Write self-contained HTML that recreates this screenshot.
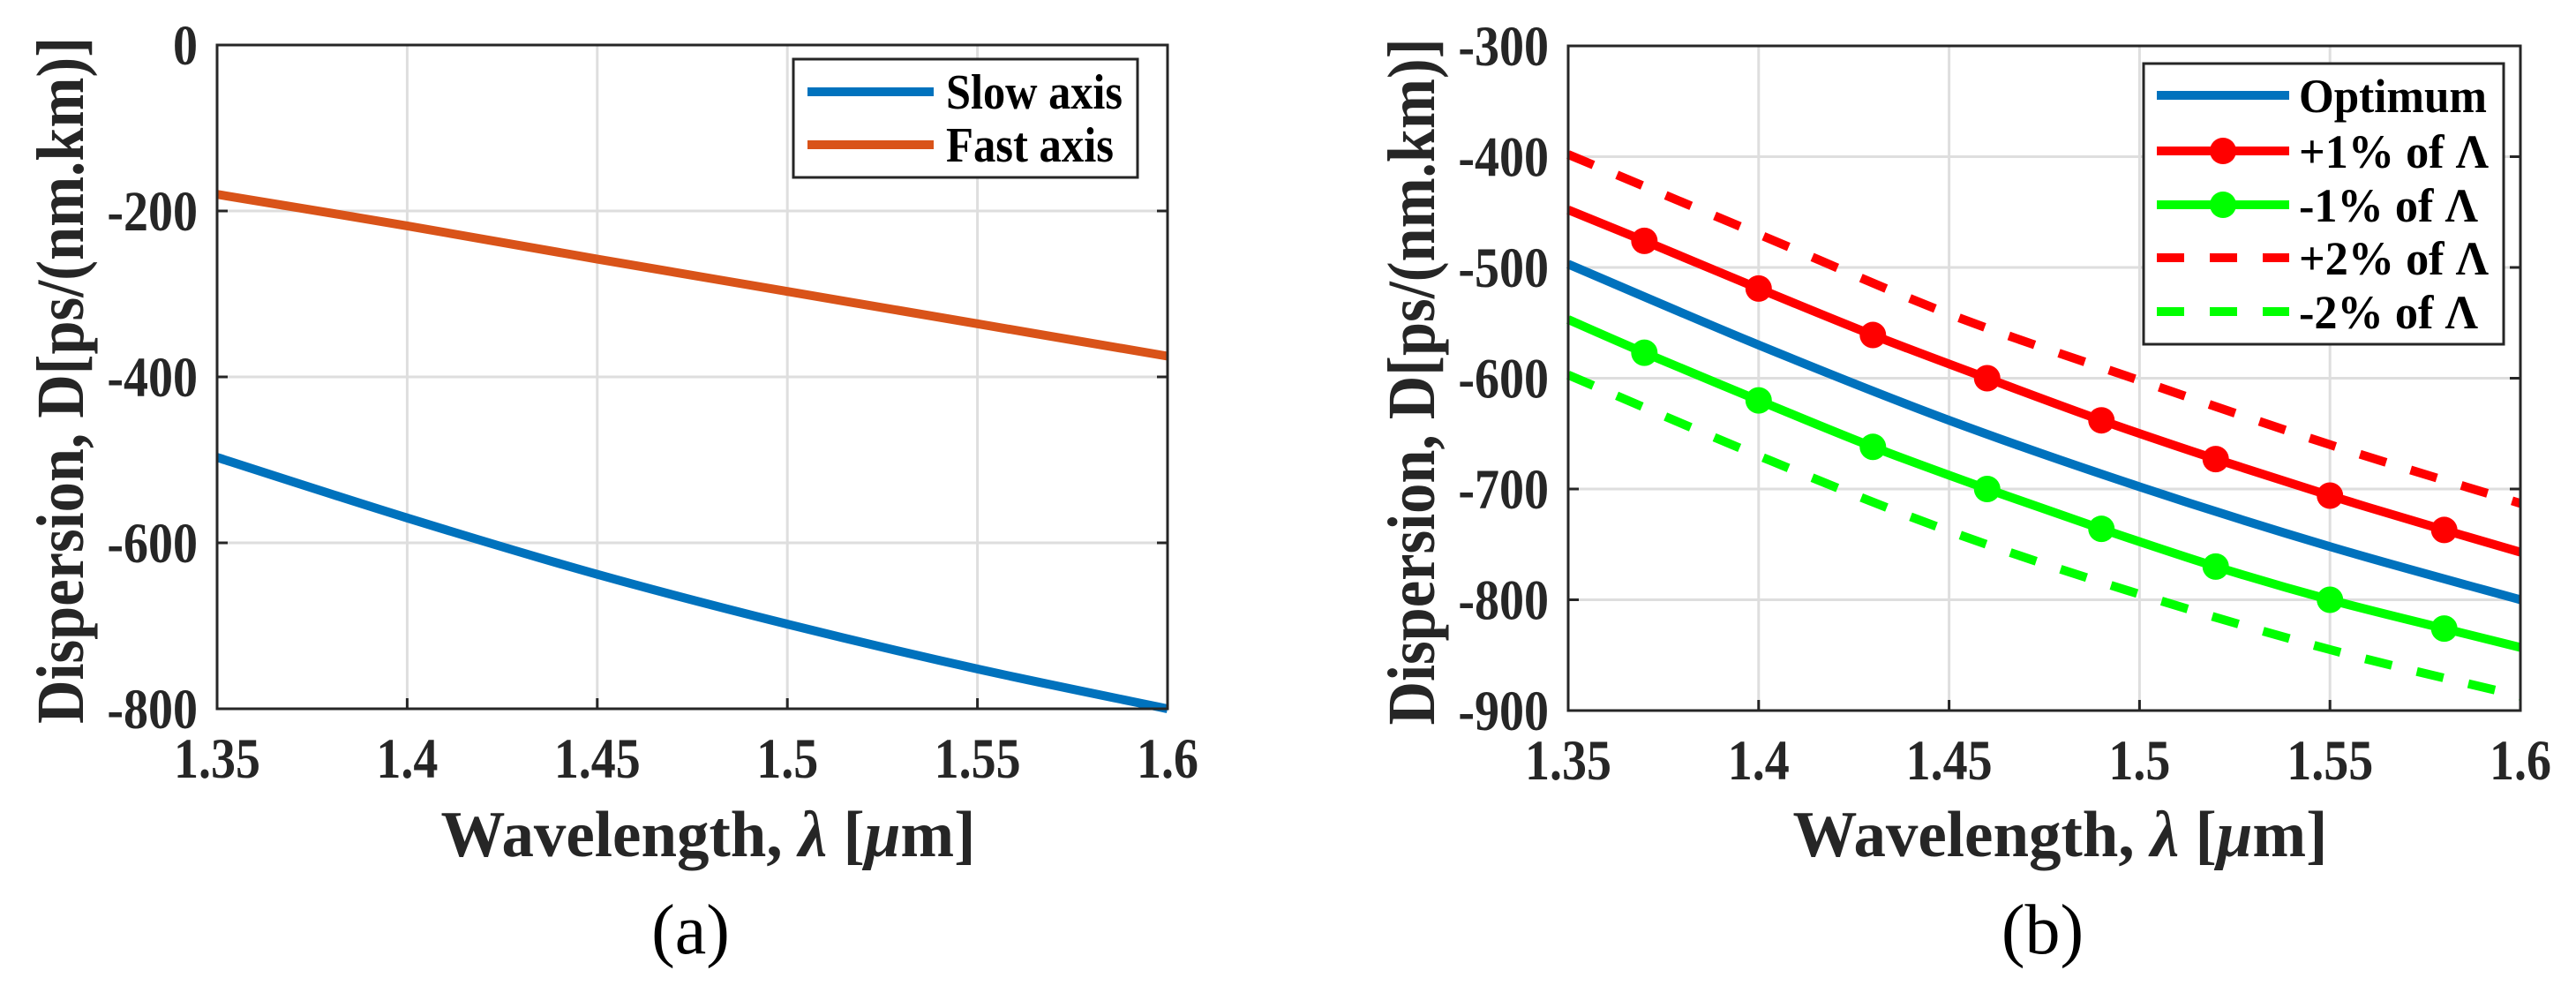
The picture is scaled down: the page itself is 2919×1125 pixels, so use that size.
<!DOCTYPE html>
<html><head><meta charset="utf-8"><style>
html,body{margin:0;padding:0;background:#fff;}
svg{display:block;font-family:"Liberation Serif",serif;}
</style></head><body>
<svg id="fig" width="2919" height="1125" viewBox="0 0 2919 1125" xmlns="http://www.w3.org/2000/svg">
<g id="pa"></g>
<g id="pb"></g>
</svg>
<script>
// Panel (a) data
const xA = [1.35, 1.40, 1.45, 1.50, 1.55, 1.60];
const slowAxis = [-497, -570, -638, -698, -752, -800];
const fastAxis = [-180, -218, -258, -297, -336, -375];
const xTicksA = [1.35, 1.4, 1.45, 1.5, 1.55, 1.6];
const xTickLabelsA = ["1.35", "1.4", "1.45", "1.5", "1.55", "1.6"];
const yTicksA = [0, -200, -400, -600, -800];
const yTickLabelsA = ["0", "-200", "-400", "-600", "-800"];

// Panel (b) data
const xB = [1.35, 1.40, 1.45, 1.50, 1.55, 1.60];
const optimum = [-497, -570, -638, -698, -752, -800];
const xMk = [1.35, 1.37, 1.40, 1.43, 1.46, 1.49, 1.52, 1.55, 1.58, 1.60];
const plus1 = [-448, -476, -519, -561, -600, -638, -673, -706, -737, -757];
const minus1 = [-547, -577, -620, -662, -700, -736, -770, -800, -826, -843];
const plus2 = [-398, -470, -542, -602, -660, -713];
const minus2 = [-597, -670, -738, -795, -845, -887];
const yTicksB = [-300, -400, -500, -600, -700, -800, -900];
const yTickLabelsB = ["-300", "-400", "-500", "-600", "-700", "-800", "-900"];

const NS = "http://www.w3.org/2000/svg";
function mk(parent, tag, attrs, text) {
  const e = document.createElementNS(NS, tag);
  for (const k in attrs) e.setAttribute(k, attrs[k]);
  if (text !== undefined) e.textContent = text;
  parent.appendChild(e);
  return e;
}

function drawPanel(g, box, xmin, xmax, ymin, ymax, yT, yL, letter) {
  const sx = v => box.l + (v - xmin) / (xmax - xmin) * (box.r - box.l);
  const sy = v => box.b - (v - ymin) / (ymax - ymin) * (box.b - box.t);
  xTicksA.forEach(v => {
    const l = mk(g, "line", {x1: sx(v), x2: sx(v), y1: box.t, y2: box.b, stroke: "#dedede", "stroke-width": 3});
    
    
  });
  yT.forEach(v => {
    const l = mk(g, "line", {x1: box.l, x2: box.r, y1: sy(v), y2: sy(v), stroke: "#dedede", "stroke-width": 3});
    
    
  });
  xTicksA.forEach((v, i) => {
    const t = mk(g, "text", {x: 0, y: 0, transform: `translate(${sx(v)},${box.b + 78}) scale(1,1.15)`, "text-anchor": "middle", "font-size": 56, "font-weight": "bold", fill: "#262626"}, xTickLabelsA[i]);
    
    
    const tk = mk(g, "line", {x1: sx(v), x2: sx(v), y1: box.b, y2: box.b - 12, stroke: "#262626", "stroke-width": 3});
    
    
  });
  yT.forEach((v, i) => {
    const t = mk(g, "text", {x: 0, y: 0, transform: `translate(${box.l - 22},${sy(v) + 22}) scale(1,1.15)`, "text-anchor": "end", "font-size": 56, "font-weight": "bold", fill: "#262626"}, yL[i]);
    
    
    const tk = mk(g, "line", {x1: box.l, x2: box.l + 12, y1: sy(v), y2: sy(v), stroke: "#262626", "stroke-width": 3});
    
    
    const tk2 = mk(g, "line", {x1: box.r, x2: box.r - 12, y1: sy(v), y2: sy(v), stroke: "#262626", "stroke-width": 3});
    
    
  });
  const cx = (box.l + box.r) / 2;
  const xt = mk(g, "text", {x: cx + 18, y: 970, "text-anchor": "middle", "font-size": 74, "font-weight": "bold", fill: "#262626", textLength: 606, lengthAdjust: "spacingAndGlyphs"});
  
  
  xt.innerHTML = 'Wavelength, <tspan font-style="italic">λ</tspan> [<tspan font-style="italic">μ</tspan>m]';
  const yt = mk(g, "text", {x: 0, y: 0, transform: `translate(${box.l - 152},${(box.t + box.b) / 2 + 4}) rotate(-90)`, "text-anchor": "middle", "font-size": 76, "font-weight": "bold", fill: "#262626", textLength: 778, lengthAdjust: "spacingAndGlyphs"}, "Dispersion, D[ps/(nm.km)]");
  
  
  const lt = mk(g, "text", {x: cx - 2, y: 1080, "text-anchor": "middle", "font-size": 80, fill: "#000"}, "(" + letter + ")");
  
  
  return {sx, sy};
}

function smoothPath(P) {
  let d = "M" + P[0][0] + "," + P[0][1];
  for (let i = 0; i < P.length - 1; i++) {
    const p0 = P[Math.max(0, i - 1)], p1 = P[i], p2 = P[i + 1], p3 = P[Math.min(P.length - 1, i + 2)];
    const c1x = p1[0] + (p2[0] - p0[0]) / 6, c1y = p1[1] + (p2[1] - p0[1]) / 6;
    const c2x = p2[0] - (p3[0] - p1[0]) / 6, c2y = p2[1] - (p3[1] - p1[1]) / 6;
    d += ` C${c1x},${c1y} ${c2x},${c2y} ${p2[0]},${p2[1]}`;
  }
  return d;
}

function series(g, s, xs, ys, color, dash, name, markers) {
  const P = xs.map((x, i) => [s.sx(x), s.sy(ys[i])]);
  const attrs = {d: smoothPath(P), fill: "none", stroke: color, "stroke-width": 10, "stroke-linejoin": "round"};
  if (dash) attrs["stroke-dasharray"] = "31 29";
  const p = mk(g, "path", attrs);
  
  
  if (markers) {
    xs.forEach((x, i) => {
      if (i === 0 || i === xs.length - 1) return;
      const c = mk(g, "circle", {cx: s.sx(x), cy: s.sy(ys[i]), r: 15, fill: color});
      
      
    });
  }
}

function legend(g, box, entries, x0, x1, tx, ys, fs) {
  const r = mk(g, "rect", {x: box.x, y: box.y, width: box.w, height: box.h, fill: "#fff", stroke: "#262626", "stroke-width": 3});
  
  
  entries.forEach((e, i) => {
    const a = {x1: x0, x2: x1, y1: ys[i], y2: ys[i], stroke: e.c, "stroke-width": 10};
    if (e.dash) a["stroke-dasharray"] = "31 29";
    const l = mk(g, "line", a);
    
    
    if (e.m) {
      const c = mk(g, "circle", {cx: (x0 + x1) / 2, cy: ys[i], r: 15, fill: e.c});
      
      
    }
    const t = mk(g, "text", {x: tx, y: ys[i] + 19, "font-size": fs, "font-weight": "bold", fill: "#000", textLength: e.w, lengthAdjust: "spacingAndGlyphs"}, e.t);
    
    
  });
}

// Panel A
const ga = document.getElementById("pa");
const boxA = {l: 246, r: 1323, t: 51, b: 803};
const sA = drawPanel(ga, boxA, 1.35, 1.6, -800, 0, yTicksA, yTickLabelsA, "a");
series(ga, sA, xA, fastAxis, "#D95319", false, "fast-axis-line", false);
series(ga, sA, xA, slowAxis, "#0072BD", false, "slow-axis-line", false);
const fa = mk(ga, "rect", {x: boxA.l, y: boxA.t, width: boxA.r - boxA.l, height: boxA.b - boxA.t, fill: "none", stroke: "#262626", "stroke-width": 3});


legend(ga, {x: 899, y: 67, w: 390, h: 134}, [
  {t: "Slow axis", c: "#0072BD", w: 200}, {t: "Fast axis", c: "#D95319", w: 190}
], 915, 1058, 1072, [104, 164], 56);

// Panel B
const gb = document.getElementById("pb");
const boxB = {l: 1777, r: 2856, t: 52, b: 805};
const sB = drawPanel(gb, boxB, 1.35, 1.6, -900, -300, yTicksB, yTickLabelsB, "b");
series(gb, sB, xB, plus2, "#FF0000", true, "plus-2pct-line", false);
series(gb, sB, xB, minus2, "#00FF00", true, "minus-2pct-line", false);
series(gb, sB, xB, optimum, "#0072BD", false, "optimum-line", false);
series(gb, sB, xMk, plus1, "#FF0000", false, "plus-1pct-line", true);
series(gb, sB, xMk, minus1, "#00FF00", false, "minus-1pct-line", true);
const fb = mk(gb, "rect", {x: boxB.l, y: boxB.t, width: boxB.r - boxB.l, height: boxB.b - boxB.t, fill: "none", stroke: "#262626", "stroke-width": 3});


legend(gb, {x: 2429, y: 72, w: 408, h: 318}, [
  {t: "Optimum", c: "#0072BD", w: 213},
  {t: "+1% of Λ", c: "#FF0000", m: true, w: 215},
  {t: "-1% of Λ", c: "#00FF00", m: true, w: 203},
  {t: "+2% of Λ", c: "#FF0000", dash: true, w: 215},
  {t: "-2% of Λ", c: "#00FF00", dash: true, w: 203}
], 2444, 2594, 2605, [108, 171, 232, 292, 353], 54);
</script>
</body></html>
